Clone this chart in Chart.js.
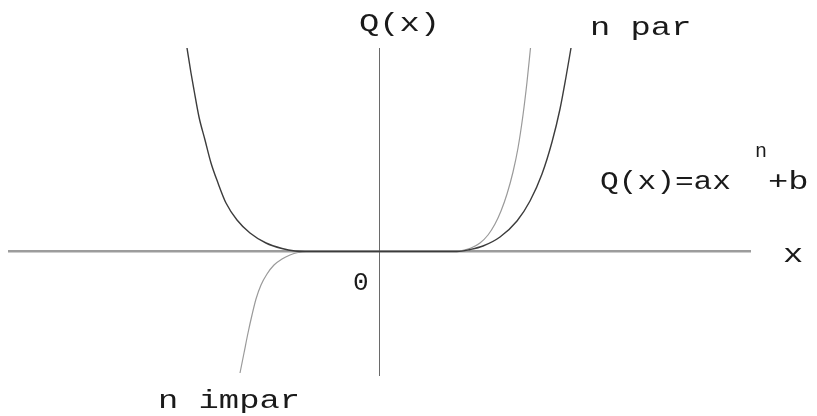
<!DOCTYPE html>
<html>
<head>
<meta charset="utf-8">
<script src="https://cdn.jsdelivr.net/npm/chart.js@4/dist/chart.umd.min.js"></script>
<style>
  html, body { margin: 0; padding: 0; background: #fff; }
  #wrap { width: 817px; height: 416px; position: relative; }
</style>
</head>
<body>
<div id="wrap"><canvas id="plot"></canvas></div>
<script>
/* ── Data (x, Q(x)) ──────────────────────────────────── */
const EVEN_X = [-1.925, -1.885, -1.855, -1.805, -1.745, -1.685, -1.615, -1.535, -1.425, -1.295, -1.135, -0.975, -0.845, -0.745,
                0, 0.775, 0.905, 1.035, 1.205, 1.375, 1.505, 1.625, 1.725, 1.805, 1.865, 1.915];
const EVEN_Y = [2.035, 1.785, 1.615, 1.345, 1.115, 0.885, 0.685, 0.485, 0.315, 0.185, 0.085, 0.03, 0.005, 0,
                0, 0, 0.02, 0.055, 0.145, 0.305, 0.505, 0.775, 1.095, 1.425, 1.745, 2.035];

const ODD_X = [-1.395, -1.355, -1.315, -1.275, -1.235, -1.185, -1.125, -1.055, -0.975, -0.895, -0.815, -0.735,
               0, 0.735, 0.825, 0.915, 1.005, 1.085, 1.155, 1.215, 1.275, 1.335, 1.385, 1.435, 1.475, 1.51];
const ODD_Y = [-1.215, -1.015, -0.815, -0.635, -0.475, -0.335, -0.225, -0.135, -0.075, -0.035, -0.01, 0,
               0, 0, 0.01, 0.035, 0.085, 0.165, 0.275, 0.405, 0.575, 0.795, 1.035, 1.365, 1.695, 2.035];

/* axis ranges */
const X_RANGE = [-3.705, 3.705];
const Y_RANGE = [-1.235, 2.035];

/* text labels: [text, x, y] in axis units (baseline-left) */
const LABELS = [
    ['Q(x)',    -0.205, 2.205],
    ['n par',    2.105, 2.165],
    ['Q(x)=ax',  2.205, 0.625],
    ['n',        3.755, 0.945],
    ['+b',       3.885, 0.625],
    ['x',        4.035, -0.105],
    ['0',       -0.265, -0.385],
    ['n impar', -2.215, -1.565],
];

const toPoints = (xs, ys) => xs.map((x, i) => ({ x, y: ys[i] }));

/* ── Text labels plugin ─────────────────────────────── */
const labelPlugin = {
    id: 'labels',
    afterDraw(chart) {
        const ctx = chart.ctx;
        const sx = chart.scales.x, sy = chart.scales.y;
        LABELS.forEach(([text, x, y], i) => {
            const small = i === 3;                       // exponent
            const stretch = text === 'Q(x)=ax' ? 1.2 : (text === '0' ? 1.0 : 1.3);
            ctx.save();
            ctx.translate(sx.getPixelForValue(x), sy.getPixelForValue(y));
            ctx.scale(small ? 1.0 : stretch, 1);
            ctx.font = (small ? '20px' : '26px') + " 'Liberation Mono', monospace";
            ctx.fillStyle = '#1a1a1a';
            ctx.textAlign = 'left';
            ctx.textBaseline = 'alphabetic';
            ctx.fillText(text, 0, 0);
            ctx.restore();
        });
    }
};

new Chart(document.getElementById('plot'), {
    type: 'scatter',
    data: {
        datasets: [
            {
                label: 'n par',
                data: toPoints(EVEN_X, EVEN_Y),
                showLine: true,
                borderColor: '#3c3c3c',
                borderWidth: 1.4,
                pointRadius: 0,
                cubicInterpolationMode: 'monotone',
                order: 1,
            },
            {
                label: 'n impar',
                data: toPoints(ODD_X, ODD_Y),
                showLine: true,
                borderColor: '#9a9a9a',
                borderWidth: 1.2,
                pointRadius: 0,
                cubicInterpolationMode: 'monotone',
                order: 2,
            }
        ]
    },
    options: {
        responsive: true,
        maintainAspectRatio: false,
        animation: false,
        events: [],
        layout: { padding: { left: 9, right: 67, top: 48, bottom: 41 } },
        plugins: { legend: { display: false }, tooltip: { enabled: false } },
        scales: {
            x: {
                type: 'linear', min: X_RANGE[0], max: X_RANGE[1],
                position: { y: 0 },
                grid: { display: false },
                ticks: { display: false },
                border: { color: '#9c9c9c', width: 2.5 },
            },
            y: {
                type: 'linear', min: Y_RANGE[0], max: Y_RANGE[1],
                position: { x: 0 },
                grid: { display: false },
                ticks: { display: false },
                border: { color: '#6a6a6a', width: 1 },
            }
        }
    },
    plugins: [labelPlugin]
});
</script>
</body>
</html>
